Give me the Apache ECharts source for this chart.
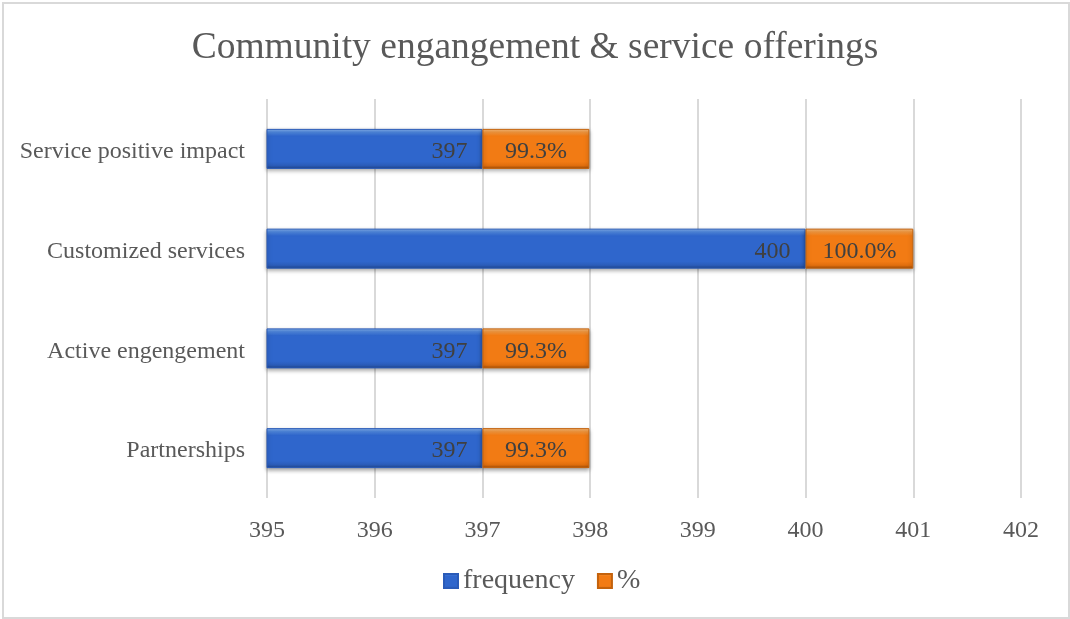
<!DOCTYPE html>
<html>
<head>
<meta charset="utf-8">
<script src="https://cdn.jsdelivr.net/npm/echarts@6/dist/echarts.min.js"></script>
<style>
  html, body { margin: 0; padding: 0; background: #fff; }
  #frame { position: absolute; left: 2px; top: 2px; width: 1064px; height: 613px; border: 2px solid #d9d9d9; box-sizing: content-box; }
  #chart { position: absolute; left: 0; top: 0; width: 1070px; height: 619px; }
</style>
</head>
<body>
<div id="frame"></div>
<div id="chart"></div>
<script>
// Categories listed bottom to top
const categories = ['Partnerships', 'Active engengement', 'Customized services', 'Service positive impact'];
const frequency = [397, 397, 400, 397];
const percent = [0.993, 0.993, 1.0, 0.993];
const xTicks = [395, 396, 397, 398, 399, 400, 401, 402];

const serif = '"Liberation Serif", "Times New Roman", serif';

function bevel(top, hi, mid, low, bottom) {
  return new echarts.graphic.LinearGradient(0, 0, 0, 1, [
    { offset: 0, color: top },
    { offset: 0.08, color: hi },
    { offset: 0.18, color: mid },
    { offset: 0.82, color: mid },
    { offset: 0.92, color: low },
    { offset: 1, color: bottom }
  ]);
}

const chart = echarts.init(document.getElementById('chart'), null, { renderer: 'canvas' });
chart.setOption({
  animation: false,
  title: {
    text: 'Community engangement & service offerings',
    left: 'center',
    top: 24,
    textStyle: { fontFamily: serif, fontSize: 37.5, fontWeight: 'normal', color: '#595959' }
  },
  legend: {
    bottom: 19,
    left: 438,
    itemWidth: 14,
    itemHeight: 14,
    itemGap: 22,
    icon: 'rect',
    textStyle: { fontFamily: serif, fontSize: 28, color: '#595959', padding: [0, 0, 0, 0] },
    data: ['frequency', '%']
  },
  grid: { left: 267, right: 49, top: 99, bottom: 121, containLabel: false },
  xAxis: {
    type: 'value',
    min: xTicks[0],
    max: xTicks[xTicks.length - 1],
    interval: 1,
    axisLine: { show: false },
    axisTick: { show: false },
    splitLine: { show: true, lineStyle: { color: '#d9d9d9', width: 2 } },
    axisLabel: { fontFamily: serif, fontSize: 24, color: '#595959', margin: 21 }
  },
  yAxis: {
    type: 'category',
    data: categories,
    axisLine: { show: false },
    axisTick: { show: false },
    axisLabel: {
      margin: 22,
      formatter: v => '{c|' + v + '}',
      rich: {
        c: { fontFamily: serif, fontSize: 24, color: '#595959', padding: [6, 0, 0, 0] }
      }
    }
  },
  series: [
    {
      name: 'frequency',
      type: 'bar',
      stack: 'total',
      barWidth: 40,
      data: frequency,
      itemStyle: {
        color: bevel('#8bb6f0', '#5089e0', '#2f66cc', '#2b5cb8', '#1f4488'),
        borderColor: '#2a5bb8',
        borderWidth: 1,
        shadowColor: 'rgba(0,0,0,0.35)',
        shadowBlur: 4,
        shadowOffsetY: 2
      },
      label: {
        show: true,
        position: 'insideRight',
        distance: 15,
        offset: [0, 3],
        fontFamily: serif,
        fontSize: 24,
        color: '#404040'
      }
    },
    {
      name: '%',
      type: 'bar',
      stack: 'total',
      barWidth: 40,
      data: percent,
      itemStyle: {
        color: bevel('#fcc080', '#f69a40', '#f27b14', '#e06e0e', '#9a4a08'),
        borderColor: '#c4620c',
        borderWidth: 1,
        shadowColor: 'rgba(0,0,0,0.35)',
        shadowBlur: 4,
        shadowOffsetY: 2
      },
      label: {
        show: true,
        position: 'inside',
        offset: [0, 3],
        fontFamily: serif,
        fontSize: 24,
        color: '#404040',
        formatter: p => (p.value * 100).toFixed(1) + '%'
      }
    }
  ]
});
</script>
</body>
</html>
